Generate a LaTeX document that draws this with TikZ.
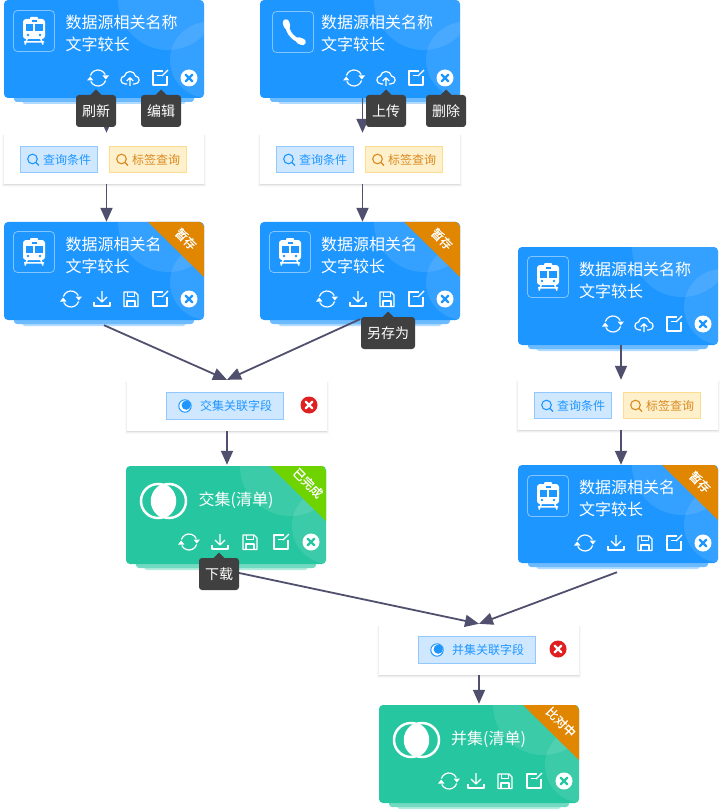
\documentclass[tikz,border=0pt]{standalone}
\usepackage{fontspec}
\setmainfont{Noto Sans CJK SC}
\newfontfamily\ribbonfont[FakeBold=0.6]{Noto Sans CJK SC}
\usetikzlibrary{arrows.meta,calc}
\definecolor{cblue}{HTML}{1E96FF}
\definecolor{cgreen}{HTML}{26C6A0}
\definecolor{corange}{HTML}{E08600}
\definecolor{clime}{HTML}{6FD300}
\definecolor{cflow}{HTML}{50506E}
\definecolor{ctip}{HTML}{404040}
\definecolor{cred}{HTML}{E02020}
\definecolor{chipbfill}{HTML}{D0E8FF}
\definecolor{chipbline}{HTML}{90C8FF}
\definecolor{chipyfill}{HTML}{FFF0CC}
\definecolor{chipyline}{HTML}{FFDD90}
\definecolor{chipytext}{HTML}{D98A1F}
\tikzset{
  x=1pt,y=-1pt,
  cardbox/.style={rectangle,rounded corners=4pt,inner sep=0pt,minimum width=200pt,minimum height=98pt},
  panel/.style={rectangle,fill=white,inner sep=0pt,minimum width=200pt,minimum height=50pt},
  iconbox/.style={rectangle,rounded corners=4pt,draw=white,draw opacity=.45,line width=.8pt,inner sep=0pt,minimum width=41pt,minimum height=41pt},
  title/.style={anchor=west,text=white,inner sep=0pt,font=\fontsize{16}{16}\selectfont},
  ribbontext/.style={rotate=-45,text=white,inner sep=0pt,font=\ribbonfont\fontsize{12}{12}\selectfont},
  tiptext/.style={rectangle,fill=ctip,rounded corners=3pt,text=white,inner sep=0pt,minimum height=32pt,font=\fontsize{14}{14}\selectfont},
  chipblue/.style={rectangle,fill=chipbfill,draw=chipbline,line width=.9pt,inner sep=0pt,minimum height=26.5pt},
  chipyellow/.style={rectangle,fill=chipyfill,draw=chipyline,line width=.9pt,inner sep=0pt,minimum height=26.5pt},
  chiptext/.style={inner sep=0pt,font=\fontsize{12}{12}\selectfont},
  ic/.style={draw=white,line width=1.2pt,line join=round},
  flow/.style={draw=cflow,line width=1.8pt,-{Triangle[width=12pt,length=14pt]}},
}
\newcommand\cardbase[6]{% name x y color shade1 shade2
\begin{scope}[shift={(#2,#3)}]
  \fill[#6,rounded corners=3pt] (18,92) rectangle (182,104);
  \fill[#5,rounded corners=3pt] (10,92) rectangle (190,102);
  \node[cardbox,fill=#4] (#1) at (100,49) {};
  \begin{scope}
    \clip[rounded corners=4pt] (0,0) rectangle (200,98);
    \fill[white,opacity=.1] (164,0) circle[radius=50];
    \fill[white,opacity=.1] (204,60) circle[radius=38];
  \end{scope}
\end{scope}}
\newcommand\ribbon[5]{% name x y color text
\begin{scope}[shift={(#2,#3)}]
  \fill[#4,rounded corners=0pt] (144,0) -- (196,0) to[out=0,in=-90] (200,4) -- (200,55) -- cycle;
  \node[ribbontext] (#1r) at (182,17) {#5};
\end{scope}}
\newcommand\titletwo[6]{% name x y tx line1 line2
\begin{scope}[shift={(#2,#3)}]
  \node[title] (#1a) at (#4,22) {#5};
  \node[title] (#1b) at (#4,44) {#6};
\end{scope}}
\newcommand\trainicon[4]{% name x y color (absolute centre of icon)
\begin{scope}[shift={(#2,#3)}]
  \node[iconbox] (#1i) at (0,0) {};
  \fill[white,rounded corners=1pt] (-4,-14) rectangle (4,-10);
  \fill[white,rounded corners=3pt] (-11,-12) rectangle (11,8);
  \fill[#4] (-2.5,-10.5) rectangle (2.5,-8.5);
  \fill[#4] (-8.5,-6.5) rectangle (-1,0.5);
  \fill[#4] (1,-6.5) rectangle (8.5,0.5);
  \fill[#4] (-6,4) circle[radius=1.4];
  \fill[#4] (6,4) circle[radius=1.4];
  \draw[white,line width=1.5pt] (-6.5,7) -- (-9,13.5) (6.5,7) -- (9,13.5) (-10,10.8) -- (10,10.8);
\end{scope}}
\newcommand\phoneicon[3]{%
\begin{scope}[shift={(#2,#3)}]
  \node[iconbox] (#1i) at (0,0) {};
  \draw[white,line width=3.8pt] (-6,-8) .. controls (-6,1) and (2,9) .. (9,9);
  \draw[white,line width=6.5pt,line cap=round] (-7,-9.5) -- (-6,-6);
  \draw[white,line width=6.5pt,line cap=round] (6,8.5) -- (9.5,10);
\end{scope}}
\newcommand\icsync[2]{%
\begin{scope}[shift={(#1,#2)}]
  \draw[ic] (-7.6,-2.5) arc[start angle=198,end angle=335,radius=8];
  \draw[ic] (7.6,2.5) arc[start angle=18,end angle=155,radius=8];
  \fill[white] (4.6,-2.5) -- (11,-2.5) -- (7.8,1.5) -- cycle;
  \fill[white] (-4.6,2.5) -- (-11,2.5) -- (-7.8,-1.5) -- cycle;
\end{scope}}
\newcommand\iccloud[2]{%
\begin{scope}[shift={(#1,#2)}]
  \draw[ic] (-3,6) -- (-4.5,6) .. controls (-10.5,6) and (-10.5,-1.5) .. (-5.5,-2) .. controls (-4.5,-8) and (4.5,-8) .. (5.5,-2) .. controls (10.5,-1.5) and (10.5,6) .. (4.5,6) -- (3,6);
  \draw[ic] (0,8) -- (0,0) (-3.2,3) -- (0,-0.2) -- (3.2,3);
\end{scope}}
\newcommand\icedit[2]{%
\begin{scope}[shift={(#1,#2)}]
  \draw[ic] (3,-7) -- (-7,-7) -- (-7,7) -- (7,7) -- (7,-2);
  \draw[ic] (-3.5,-2.5) -- (1.5,-2.5);
  \draw[ic] (2,-2) -- (8,-8);
\end{scope}}
\newcommand\icdown[2]{%
\begin{scope}[shift={(#1,#2)}]
  \draw[ic] (0,-8) -- (0,3) (-5,-2) -- (0,3) -- (5,-2);
  \draw[ic] (-8,3) -- (-8,7) -- (8,7) -- (8,3);
\end{scope}}
\newcommand\icsave[2]{%
\begin{scope}[shift={(#1,#2)}]
  \draw[ic] (-7,-7) -- (4,-7) -- (7,-4) -- (7,7.5) -- (-7,7.5) -- cycle;
  \draw[ic] (-3.5,-7) -- (-3.5,-2.5) -- (3.5,-2.5) -- (3.5,-7);
  \draw[ic] (-4,7.5) -- (-4,2) -- (4,2) -- (4,7.5);
\end{scope}}
\newcommand\icclose[4]{% x y circle cross
\begin{scope}[shift={(#1,#2)}]
  \fill[#3] (0,0) circle[radius=8.5];
  \draw[#4,line width=2.3pt,line cap=round] (-3.2,-3.2) -- (3.2,3.2) (-3.2,3.2) -- (3.2,-3.2);
\end{scope}}
\newcommand\venn[2]{% circle centre
\begin{scope}[shift={(#1,#2)}]
  \begin{scope}
    \clip (-5.5,0) circle[radius=17];
    \fill[white] (5.5,0) circle[radius=17];
  \end{scope}
  \draw[white,line width=2.5pt] (-5.5,0) circle[radius=17];
  \draw[white,line width=2.5pt] (5.5,0) circle[radius=17];
\end{scope}}
\newcommand\panelshadow[2]{%
  \fill[black,opacity=.025] (#1-2,#2+1) rectangle (#1+202,#2+53);
  \fill[black,opacity=.04] (#1-1,#2+1) rectangle (#1+201,#2+52);
  \fill[black,opacity=.07] (#1,#2+1) rectangle (#1+200,#2+51);
}
\newcommand\filterpanel[3]{% name x y
  \panelshadow{#2}{#3}
  \node[panel] (#1) at (#2+100,#3+25) {};
  \begin{scope}[shift={(#2,#3)}]
    \node[chipblue,minimum width=77.5pt] (#1q) at (55,25.5) {};
    \node[chiptext,text=cblue] (#1qt) at (63,25.5) {查询条件};
    \draw[cblue,line width=1.1pt] (28.5,25) circle[radius=4.8] (32,28.5) -- (35,31.5);
    \node[chipyellow,minimum width=77.5pt] (#1l) at (144,25.5) {};
    \node[chiptext,text=chipytext] (#1lt) at (152,25.5) {标签查询};
    \draw[chipytext,line width=1.1pt] (117.5,25) circle[radius=4.8] (121,28.5) -- (124,31.5);
  \end{scope}
}
\newcommand\joinpanel[5]{% name x y text closex
  \panelshadow{#2}{#3}
  \node[panel] (#1) at (#2+100,#3+25) {};
  \begin{scope}[shift={(#2,#3)}]
    \node[chipblue,minimum width=117.5pt,minimum height=27.5pt] (#1q) at (98,25) {};
    \node[chiptext,text=cblue] (#1qt) at (109,25) {#4};
    \draw[cblue,fill=white,line width=1pt] (58,25) circle[radius=6.2];
    \fill[cblue] (59.2,24.2) circle[radius=4.6];
    \icclose{#5}{24}{cred}{white}
  \end{scope}
}
\newcommand\tooltip[5]{% name x y width text: x = centre, y = top
  \fill[ctip] (#2-5.5,#3) -- (#2,#3-5.5) -- (#2+5.5,#3) -- cycle;
  \node[tiptext,minimum width=#4pt] (#1) at (#2,#3+16) {#5};
}
\begin{document}
\begin{tikzpicture}
\useasboundingbox (0,0) rectangle (722,810);
\fill[white] (0,0) rectangle (722,810);

\filterpanel{fa}{4}{134}
\filterpanel{fb}{260}{134}
\filterpanel{fc}{518}{380}
\joinpanel{ja}{127}{381}{交集关联字段}{182}
\joinpanel{jb}{379}{625}{并集关联字段}{179}

% card 1
\cardbase{ca}{4}{0}{cblue}{cblue!65}{cblue!35}
\titletwo{ca}{4}{0}{61.5}{数据源相关名称}{文字较长}
\trainicon{ca}{34}{31}{cblue}
\icsync{98}{78}\iccloud{130}{78}\icedit{160}{78}\icclose{189}{78}{white}{cblue}
% card 2
\cardbase{cb}{260}{0}{cblue}{cblue!65}{cblue!35}
\titletwo{cb}{260}{0}{61}{数据源相关名称}{文字较长}
\phoneicon{cb}{293}{32}
\icsync{354}{78}\iccloud{386}{78}\icedit{416}{78}\icclose{445}{78}{white}{cblue}
% card 3
\cardbase{cc}{4}{222}{cblue}{cblue!65}{cblue!35}
\ribbon{cc}{4}{222}{corange}{暂存}
\titletwo{cc}{4}{222}{61.5}{数据源相关名}{文字较长}
\trainicon{cc}{34}{252}{cblue}
\icsync{71}{299}\icdown{102}{299}\icsave{131}{299}\icedit{160}{299}\icclose{189}{299}{white}{cblue}
% card 4
\cardbase{cd}{260}{222}{cblue}{cblue!65}{cblue!35}
\ribbon{cd}{260}{222}{corange}{暂存}
\titletwo{cd}{260}{222}{61}{数据源相关名}{文字较长}
\trainicon{cd}{290}{252}{cblue}
\icsync{327}{299}\icdown{358}{299}\icsave{387}{299}\icedit{416}{299}\icclose{445}{299}{white}{cblue}
% card 5
\cardbase{ce}{518}{247}{cblue}{cblue!65}{cblue!35}
\titletwo{ce}{518}{247}{61}{数据源相关名称}{文字较长}
\trainicon{ce}{548}{277}{cblue}
\icsync{613}{324}\iccloud{644}{324}\icedit{674}{324}\icclose{703}{324}{white}{cblue}
% card 6
\cardbase{cf}{518}{465}{cblue}{cblue!65}{cblue!35}
\ribbon{cf}{518}{465}{corange}{暂存}
\titletwo{cf}{518}{465}{61}{数据源相关名}{文字较长}
\trainicon{cf}{548}{496}{cblue}
\icsync{585}{543}\icdown{616}{543}\icsave{645}{543}\icedit{674}{543}\icclose{703}{543}{white}{cblue}
% card 7
\cardbase{cg}{126}{466}{cgreen}{cgreen!65}{cgreen!35}
\ribbon{cg}{126}{466}{clime}{已完成}
\node[title] (cgt) at (198.5,500) {交集(清单)};
\venn{163.5}{501}
\icsync{189}{542}\icdown{220}{542}\icsave{250}{542}\icedit{281}{542}\icclose{311}{542}{white}{cgreen}
% card 8
\cardbase{ch}{379}{705}{cgreen}{cgreen!65}{cgreen!35}
\ribbon{ch}{379}{705}{corange}{比对中}
\node[title] (cht) at (451,739) {并集(清单)};
\venn{416.5}{740}
\icsync{449}{781}\icdown{476}{781}\icsave{505}{781}\icedit{534}{781}\icclose{564}{781}{white}{cgreen}

% connectors
\draw[flow] ([xshift=2.5pt]ca.south) -- ([xshift=2.5pt,yshift=1pt]fa.north);
\draw[flow] ([xshift=2.5pt]cb.south) -- ([xshift=2.5pt,yshift=1pt]fb.north);
\draw[flow] ([xshift=2.5pt]fa.south) -- ([xshift=2.5pt]cc.north);
\draw[flow] ([xshift=2.5pt]fb.south) -- ([xshift=2.5pt]cd.north);
\draw[flow] ([xshift=3pt]ce.south) -- ([xshift=3pt]fc.north);
\draw[flow] ([xshift=3pt]fc.south) -- ([xshift=3pt]cf.north);
\draw[flow] ([yshift=-5pt]cc.south) -- ([yshift=1pt]ja.north);
\draw[flow] ([yshift=1pt]cd.south) -- ([yshift=1pt]ja.north);
\draw[flow] (ja.south) -- ([yshift=1pt]ja.south |- cg.north);
\draw[flow] ([xshift=-1pt,yshift=-9pt]cf.south) -- ([yshift=1pt]jb.north);
\draw[flow] ([yshift=-6pt]cg.south) -- ([yshift=1pt]jb.north);
\draw[flow] (jb.south) -- ([yshift=1pt]ch.north);

% tooltips
\tooltip{ta}{96}{95}{40}{刷新}
\tooltip{tb}{161}{95}{40}{编辑}
\tooltip{tc}{386}{95}{40}{上传}
\tooltip{td}{446}{95}{40}{删除}
\tooltip{te}{388}{317}{54}{另存为}
\tooltip{tf}{219}{558}{40}{下载}
\end{tikzpicture}
\end{document}
